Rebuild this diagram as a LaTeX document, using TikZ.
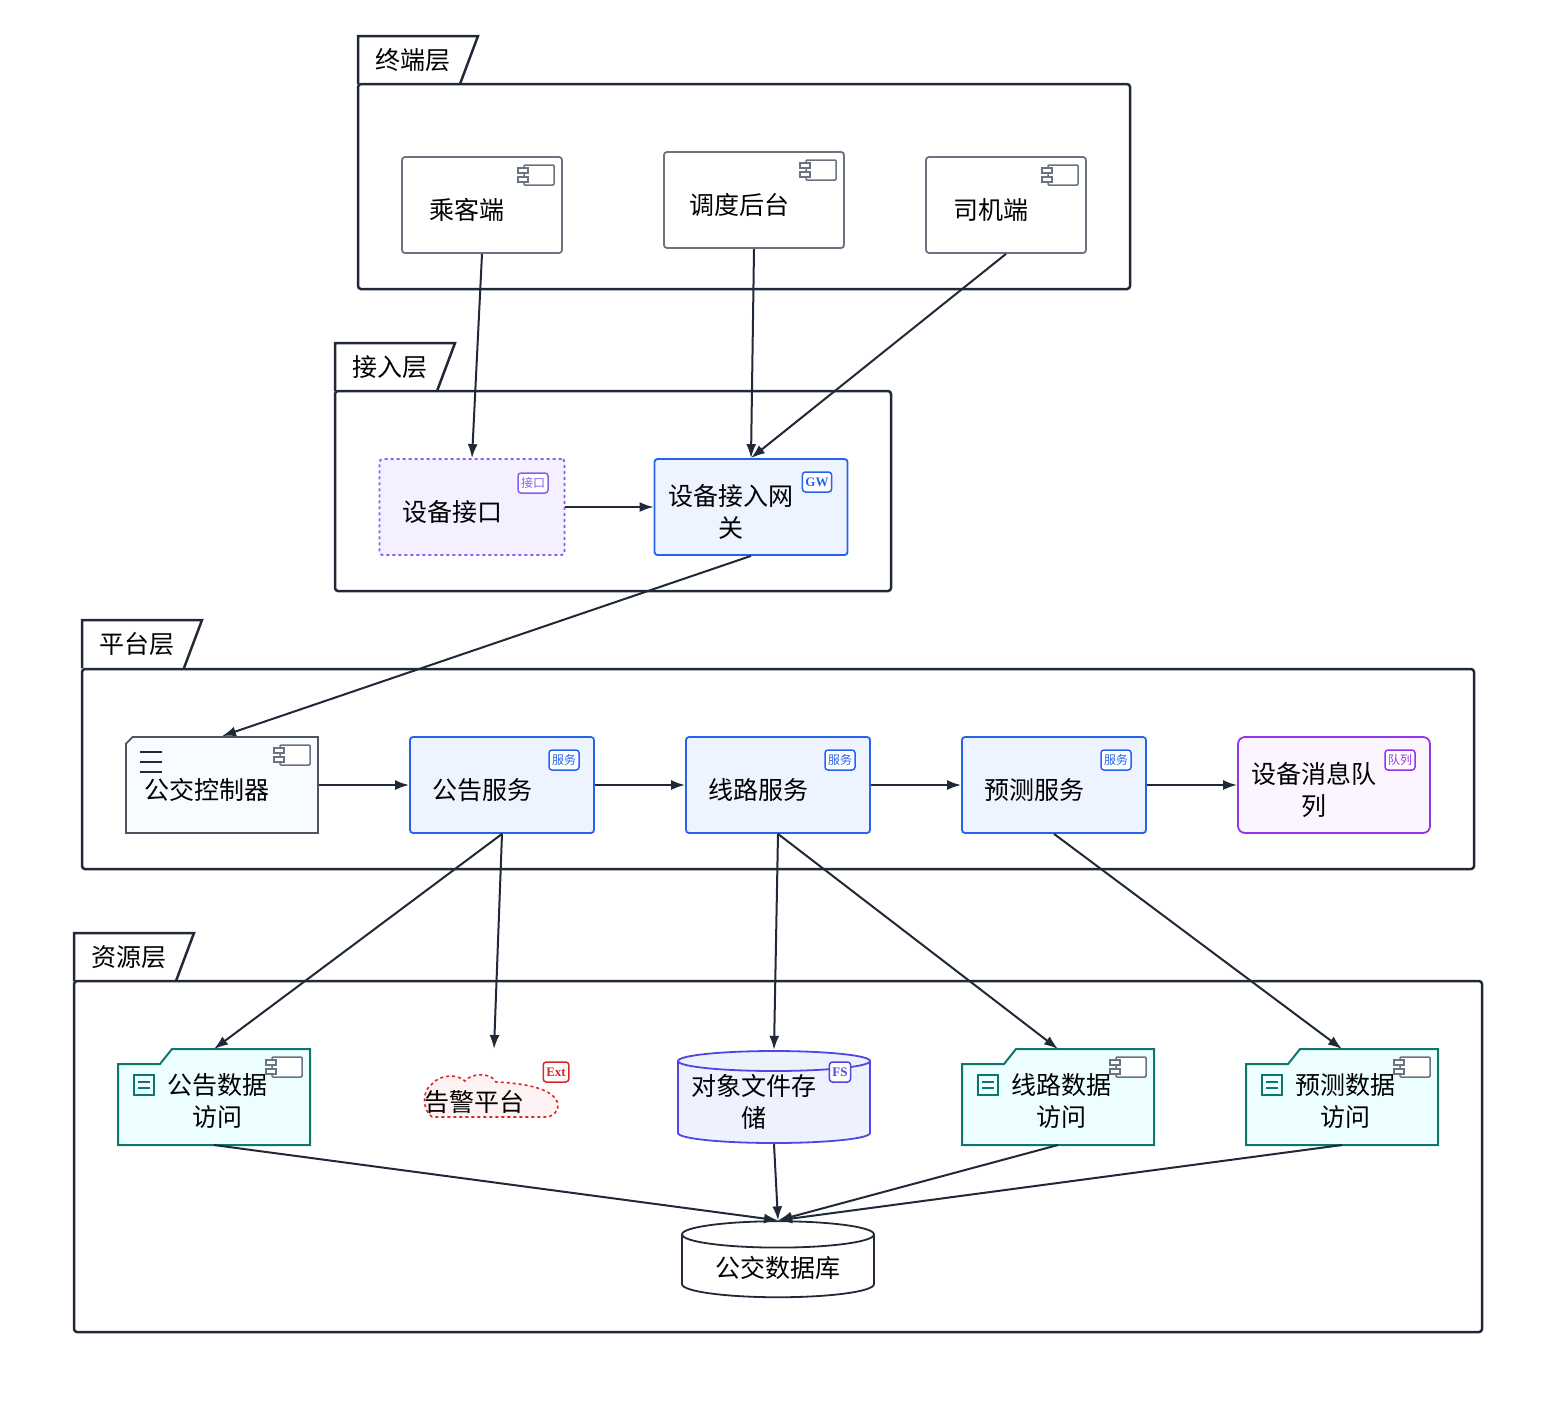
\documentclass[tikz,border=0pt]{standalone}
\usepackage{fontspec}
\setmainfont{Noto Sans CJK SC}
\newfontfamily\badgefont{Liberation Serif}
\usetikzlibrary{shapes.geometric,shapes.misc,arrows.meta}
\definecolor{ink}{HTML}{1F2937}
\definecolor{grayb}{HTML}{6B7280}
\definecolor{svcb}{HTML}{2563EB}
\definecolor{svcf}{HTML}{EEF4FF}
\definecolor{purb}{HTML}{9333EA}
\definecolor{purf}{HTML}{FAF5FF}
\definecolor{ifb}{HTML}{8B5CF6}
\definecolor{iff}{HTML}{F5F0FF}
\definecolor{tealb}{HTML}{0F766E}
\definecolor{tealf}{HTML}{ECFEFF}
\definecolor{redb}{HTML}{DC2626}
\definecolor{redf}{HTML}{FEF2F2}
\definecolor{fsb}{HTML}{4F46E5}
\definecolor{fsf}{HTML}{EEF2FF}
\tikzset{
  txt/.style={font=\fontsize{25}{32}\selectfont, align=center, text=black},
  box/.style={txt, draw=grayb, fill=white, line width=1.8pt, rounded corners=3pt, minimum width=160pt, minimum height=96pt},
  svc/.style={box, draw=svcb, fill=svcf, minimum width=184pt},
  layer/.style={draw=ink, line width=2.5pt, rounded corners=3pt},
  badge/.style={draw=#1, text=#1, line width=1.5pt, rounded corners=3pt, fill=white, inner sep=3pt, minimum height=20pt, font=\fontsize{12}{12}\selectfont},
  link/.style={draw=ink, line width=2pt, -{Latex[length=14pt,width=10pt]}},
}
\newcommand{\layertab}[3]{% x y label
  \draw[layer, rounded corners=0pt] (#1,#2+48) -- (#1,#2) -- (#1+120,#2) -- (#1+102,#2+48);
  \node[txt, anchor=west] at (#1+14,#2+24) {#3};}
\newcommand{\compicon}[2]{% top-right icon
  \draw[grayb, line width=1.5pt, fill=white, rounded corners=1pt] (#1-30,#2) rectangle (#1,#2+20);
  \draw[grayb, line width=1.5pt, fill=white] (#1-36,#2+3) rectangle (#1-26,#2+8) (#1-36,#2+12) rectangle (#1-26,#2+17);}
\newcommand{\folder}[4]{%
  \draw[tealb, fill=tealf, line width=2pt] (#1,#4) -- (#1,#2+15) -- (#1+42,#2+15) -- (#1+54,#2) -- (#3,#2) -- (#3,#4) -- cycle;
  \draw[tealb, line width=1.6pt] (#1+16,#2+26) rectangle (#1+36,#2+46) (#1+20,#2+33) -- (#1+32,#2+33) (#1+20,#2+39) -- (#1+32,#2+39);}
\begin{document}
\begin{tikzpicture}[x=1pt, y=-1pt]
  \useasboundingbox (0,0) rectangle (1546,1408);
  % layers
  \layertab{358}{36}{终端层}
  \draw[layer] (358,84) rectangle (1130,289);
  \layertab{335}{343}{接入层}
  \draw[layer] (335,391) rectangle (891,591);
  \layertab{82}{620}{平台层}
  \draw[layer] (82,669) rectangle (1474,869);
  \layertab{74}{933}{资源层}
  \draw[layer] (74,981) rectangle (1482,1332);
  % terminal
  \node[box] (passenger) at (482,205) {};
  \node[txt] at (467,210) {乘客端};
  \compicon{554}{165}
  \node[box, minimum width=180pt] (dispatch) at (754,200) {};
  \node[txt] at (739,205) {调度后台};
  \compicon{836}{160}
  \node[box] (driver) at (1006,205) {};
  \node[txt] at (991,210) {司机端};
  \compicon{1078}{165}
  % access
  \node[box, draw=ifb, fill=iff, dashed, minimum width=185pt] (devif) at (472,507) {};
  \node[txt] at (452,512) {设备接口};
  \node[badge=ifb] at (533,483) {接口};
  \node[svc, minimum width=193pt] (gateway) at (751,507) {};
  \node[txt] at (731,512) {设备接入网\\关};
  \node[badge=svcb, font=\badgefont\bfseries\fontsize{13}{13}\selectfont] at (817,482) {GW};
  % platform
  \node[box, chamfered rectangle, chamfered rectangle corners=north west, chamfered rectangle xsep=14pt, chamfered rectangle ysep=14pt, rounded corners=0pt, draw=ink!80, fill=svcf!40, minimum width=192pt] (ctrl) at (222,785) {};
  \node[txt] at (207,790) {公交控制器};
  \draw[ink, line width=1.5pt] (140,752) -- ++(22,0) (140,762) -- ++(22,0) (140,772) -- ++(22,0);
  \compicon{310}{745}
  \node[svc] (notice) at (502,785) {};
  \node[txt] at (482,790) {公告服务};
  \node[badge=svcb] at (564,760) {服务};
  \node[svc] (route) at (778,785) {};
  \node[txt] at (758,790) {线路服务};
  \node[badge=svcb] at (840,760) {服务};
  \node[svc] (predict) at (1054,785) {};
  \node[txt] at (1034,790) {预测服务};
  \node[badge=svcb] at (1116,760) {服务};
  \node[box, draw=purb, fill=purf, minimum width=192pt, rounded corners=7pt] (queue) at (1334,785) {};
  \node[txt] at (1314,790) {设备消息队\\列};
  \node[badge=purb] at (1400,760) {队列};
  % resource
  \folder{118}{1049}{310}{1145}
  \node[txt] (noticeda) at (217,1101) {公告数据\\访问};
  \compicon{302}{1057}
  \draw[redb, fill=redf, dashed, line width=1.6pt] (432,1117) .. controls (422,1110) and (422,1090) .. (432,1084) .. controls (440,1074) and (458,1074) .. (465,1081) .. controls (472,1072) and (492,1073) .. (496,1082) .. controls (522,1083) and (556,1088) .. (558,1105) .. controls (558,1113) and (552,1117) .. (545,1117) -- cycle;
  \node[txt] (alarm) at (474,1102) {告警平台};
  \node[badge=redb, font=\badgefont\bfseries\fontsize{13}{13}\selectfont] at (556,1072) {Ext};
  \node[minimum width=192pt, minimum height=94pt, inner sep=0pt] (objstore) at (774,1097) {};
  \draw[fsb, fill=fsf, line width=1.8pt] (678,1061) -- (678,1133) arc[start angle=180, end angle=360, x radius=96, y radius=-10] -- (870,1061) arc[start angle=0, end angle=180, x radius=96, y radius=-10] -- cycle;
  \draw[fsb, line width=1.8pt] (678,1061) arc[start angle=180, end angle=360, x radius=96, y radius=-10];
  \node[txt] at (754,1102) {对象文件存\\储};
  \node[badge=fsb, font=\badgefont\bfseries\fontsize{13}{13}\selectfont] at (840,1072) {FS};
  \folder{962}{1049}{1154}{1145}
  \node[txt] (routeda) at (1061,1101) {线路数据\\访问};
  \compicon{1146}{1057}
  \folder{1246}{1049}{1438}{1145}
  \node[txt] (predictda) at (1345,1101) {预测数据\\访问};
  \compicon{1430}{1057}
  \node[cylinder, shape border rotate=90, aspect=0.2, draw=ink, fill=white, line width=1.8pt, minimum width=192pt, minimum height=76pt, txt] (busdb) at (778,1268) {公交数据库};
  \coordinate (nda-top) at (214,1049);
  \coordinate (nda-bot) at (214,1145);
  \coordinate (rda-top) at (1058,1049);
  \coordinate (rda-bot) at (1058,1145);
  \coordinate (pda-top) at (1342,1049);
  \coordinate (pda-bot) at (1342,1145);
  \coordinate (alarm-top) at (494,1049);
  % connectors
  \draw[link] (passenger.south) -- (devif.north);
  \draw[link] (dispatch.south) -- (gateway.north);
  \draw[link] (driver.south) -- (gateway.north);
  \draw[link] (devif) -- (gateway);
  \draw[link] (gateway.south) -- (ctrl.north);
  \draw[link] (ctrl) -- (notice);
  \draw[link] (notice) -- (route);
  \draw[link] (route) -- (predict);
  \draw[link] (predict) -- (queue);
  \draw[link] (notice.south) -- (nda-top);
  \draw[link] (notice.south) -- (alarm-top);
  \draw[link] (route.south) -- (objstore.north);
  \draw[link] (route.south) -- (rda-top);
  \draw[link] (predict.south) -- (pda-top);
  \draw[link] (nda-bot) -- (busdb.north);
  \draw[link] (objstore.south) -- (busdb.north);
  \draw[link] (rda-bot) -- (busdb.north);
  \draw[link] (pda-bot) -- (busdb.north);
\end{tikzpicture}
\end{document}
